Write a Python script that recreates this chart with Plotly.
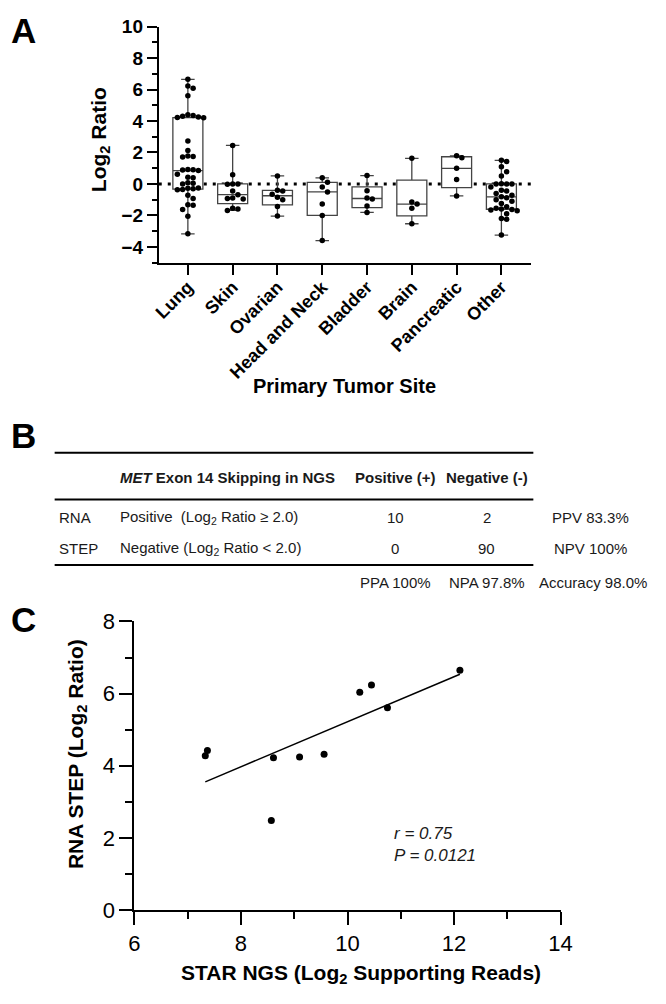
import numpy as np
import plotly.graph_objects as go

W, H = 666, 1004
FONT = "Liberation Sans, Arial, sans-serif"

# ---- Panel A: Log2 ratio per primary tumor site
sites = ["Lung", "Skin", "Ovarian", "Head and Neck", "Bladder", "Brain", "Pancreatic", "Other"]
lung = [6.65, 6.23, 6.09, 5.6, 4.4, 4.35, 4.3, 4.25, 4.22, 4.2, 2.73, 2.12, 1.78, 1.75, 1.72,
        0.92, 0.9, 0.88, 0.85, 0.62, 0.42, 0.4, 0.08, 0.05, 0.0, -0.25, -0.27, -0.3, -0.35,
        -0.37, -0.72, -0.93, -1.32, -1.36, -1.62, -2.06, -3.17]
skin = [2.45, 0.58, 0.0, 0.0, -0.02, -0.45, -0.68, -0.9, -0.92, -0.95, -1.55, -1.6, -1.68]
ovarian = [0.51, -0.4, -0.45, -0.65, -0.85, -1.0, -1.44, -2.04]
head_neck = [0.39, 0.1, -0.19, -0.51, -1.28, -2.0, -3.6]
bladder = [0.53, -0.43, -0.9, -0.95, -1.4, -1.81]
brain = [1.63, -1.15, -1.28, -1.54, -2.53]
pancreatic = [1.79, 1.67, 0.99, 0.29, -0.76]
other = [1.5, 1.42, 1.1, 0.78, 0.5, 0.02, 0.0, 0.0, 0.0, -0.2, -0.4, -0.45, -0.6, -0.72,
         -0.82, -0.88, -1.0, -1.1, -1.25, -1.45, -1.55, -1.6, -1.62, -1.65, -1.7, -1.9,
         -2.2, -2.25, -3.25]
site_values = [lung, skin, ovarian, head_neck, bladder, brain, pancreatic, other]

# ---- Panel B: concordance table
col_headers = ["Positive (+)", "Negative (-)"]
row_groups = ["RNA", "STEP"]
row_labels = ["Positive  (Log<sub>2</sub> Ratio ≥ 2.0)", "Negative (Log<sub>2</sub> Ratio &lt; 2.0)"]
counts = [[10, 2], [0, 90]]
row_metrics = ["PPV 83.3%", "NPV 100%"]
col_metrics = ["PPA 100%", "NPA 97.8%", "Accuracy 98.0%"]

# ---- Panel C: STAR NGS vs RNA STEP
star_ngs = [7.33, 7.37, 8.57, 8.61, 9.10, 9.56, 10.23, 10.45, 10.75, 12.11]
rna_step = [4.28, 4.42, 2.48, 4.22, 4.24, 4.32, 6.04, 6.24, 5.61, 6.65]
stats_text = "r = 0.75<br>P = 0.0121"


def px(x):
    return x / W


def py(y):
    return 1 - y / H


def swarm(vals, ypx=16.14, xpx=46.0, dot=5.4):
    # simple deterministic beeswarm, offsets in category units
    order = np.argsort(vals)[::-1]
    placed = []
    offs = np.zeros(len(vals))
    step = dot / xpx
    for i in order:
        k = 0
        while True:
            n = (k + 1) // 2
            c = n * step * (1 if k % 2 else -1)
            ok = all(np.hypot((c - ox) * xpx, (vals[i] - oy) * ypx) >= dot for ox, oy in placed)
            if ok:
                break
            k += 1
        offs[i] = c
        placed.append((c, vals[i]))
    return offs


fig = go.Figure()

# zero reference line (behind boxes)
fig.add_shape(type="line", xref="x", yref="y", x0=-0.65, x1=7.67, y0=0, y1=0,
              line=dict(color="black", width=3, dash="3px,6px"), layer="below")

for i, vals in enumerate(site_values):
    v = np.array(vals)
    q1, med, q3 = np.percentile(v, [25, 50, 75], method="weibull")
    fig.add_trace(go.Box(
        x=[i], q1=[q1], median=[med], q3=[q3], lowerfence=[v.min()], upperfence=[v.max()],
        width=0.67, whiskerwidth=0.45, fillcolor="white",
        line=dict(color="#444444", width=1.3), boxpoints=False,
        xaxis="x", yaxis="y", showlegend=False, hoverinfo="skip"
    ))
    fig.add_trace(go.Scatter(
        x=i + swarm(v), y=v, mode="markers",
        marker=dict(color="black", size=5.5),
        xaxis="x", yaxis="y", showlegend=False
    ))

# panel C scatter + regression
xs = np.array(star_ngs)
ys = np.array(rna_step)
slope, icpt = np.polyfit(xs, ys, 1)
xl = np.array([xs.min(), xs.max()])
fig.add_trace(go.Scatter(x=xl, y=slope * xl + icpt, mode="lines",
                         line=dict(color="black", width=1.5),
                         xaxis="x2", yaxis="y2", showlegend=False))
fig.add_trace(go.Scatter(x=xs, y=ys, mode="markers",
                         marker=dict(color="black", size=7),
                         xaxis="x2", yaxis="y2", showlegend=False))

axis_common = dict(showline=True, linecolor="black", linewidth=2, ticks="outside",
                   tickwidth=2, tickcolor="black", showgrid=False, zeroline=False)

fig.update_layout(
    width=W, height=H, autosize=False,
    margin=dict(l=0, r=0, t=0, b=0),
    paper_bgcolor="white", plot_bgcolor="white",
    font=dict(family=FONT, color="black"),
    xaxis=dict(domain=[px(157), px(540)], range=[-0.65, 7.67], anchor="y",
               tickvals=list(range(len(sites))), ticktext=sites, tickangle=-45,
               ticklen=10, ticklabelstandoff=-5,
               tickfont=dict(size=18, weight="bold"), **axis_common),
    yaxis=dict(domain=[py(257), py(15)], range=[-5, 10], anchor="x",
               tickvals=list(range(-4, 11, 2)), ticklen=10,
               tickfont=dict(size=19, weight="bold"),
               minor=dict(tickvals=list(range(-5, 10, 2)), ticks="outside", ticklen=5,
                          tickwidth=2, tickcolor="black"),
               **axis_common),
    xaxis2=dict(domain=[px(132), px(570)], range=[6, 14], anchor="y2",
                tickvals=[6, 8, 10, 12, 14], ticklen=13, tickfont=dict(size=22),
                minor=dict(tickvals=[7, 9, 11, 13], ticks="outside", ticklen=7,
                           tickwidth=2, tickcolor="black"),
                **axis_common),
    yaxis2=dict(domain=[py(921), py(625)], range=[0, 8], anchor="x2",
                tickvals=[0, 2, 4, 6, 8], ticklen=13, tickfont=dict(size=22),
                minor=dict(tickvals=[1, 3, 5, 7], ticks="outside", ticklen=7,
                           tickwidth=2, tickcolor="black"),
                **axis_common),
)

ann = []


def text(x, y, s, size=15, bold=False, italic=False, xanchor="center", angle=0, color="#1a1a1a"):
    ann.append(dict(x=px(x), y=py(y), xref="paper", yref="paper", text=s, showarrow=False,
                    xanchor=xanchor, yanchor="middle", textangle=angle,
                    font=dict(family=FONT, size=size, color=color,
                              weight="bold" if bold else "normal",
                              style="italic" if italic else "normal")))


# panel letters
text(3, 19, "A", size=35, bold=True, xanchor="left", color="black")
text(3, 434, "B", size=35, bold=True, xanchor="left", color="black")
text(3, 623, "C", size=35, bold=True, xanchor="left", color="black")

# axis titles
text(96, 131, "Log<sub>2</sub> Ratio", size=21, bold=True, angle=-90, color="black")
text(348, 384, "Primary Tumor Site", size=20, bold=True, color="black")
text(73, 761, "RNA STEP (Log<sub>2</sub> Ratio)", size=21, bold=True, angle=-90, color="black")
text(365, 987, "STAR NGS (Log<sub>2</sub> Supporting Reads)", size=21, bold=True, color="black")

# panel C stats
ann.append(dict(x=10.84, y=1.81, xref="x2", yref="y2", text=stats_text, showarrow=False,
                xanchor="left", align="left",
                font=dict(family=FONT, size=17, style="italic", color="#1a1a1a")))

# panel B table
for yl in [452, 500, 567]:
    fig.add_shape(type="line", xref="paper", yref="paper", x0=px(50), x1=px(542),
                  y0=py(yl), y1=py(yl), line=dict(color="black", width=2))

col_x = [400, 494]
text(115, 477, "<i>MET</i> Exon 14 Skipping in NGS", bold=True, xanchor="left")
for cx, h in zip(col_x, col_headers):
    text(cx, 477, h, bold=True)

row_y = [518, 550]
for ry, g, lab, cnt, m in zip(row_y, row_groups, row_labels, counts, row_metrics):
    text(52, ry, g, xanchor="left")
    text(115, ry, lab, xanchor="left")
    for cx, c in zip(col_x, cnt):
        text(cx, ry, str(c))
    text(601, ry, m)

for cx, m in zip(col_x + [603], col_metrics):
    text(cx, 585, m)

fig.update_layout(annotations=ann)

# page has a default 8px body margin; drop it so the 666x1004 figure fits the window
fig.write_html("out.html", config={"displayModeBar": False},
               post_script="document.body.style.margin='0';")
